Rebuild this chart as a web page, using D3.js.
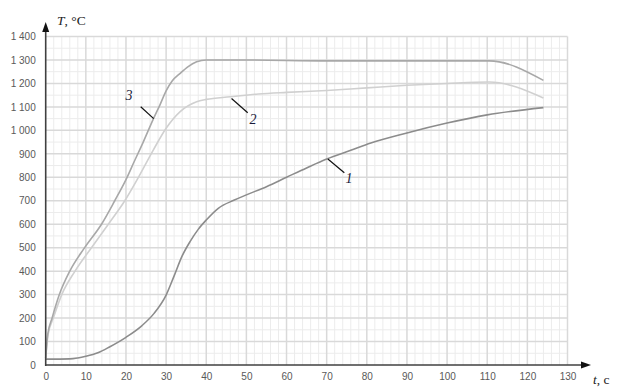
<!DOCTYPE html>
<html><head><meta charset="utf-8">
<script src="https://cdn.jsdelivr.net/npm/d3@7/dist/d3.min.js"></script>
<style>body{margin:0;background:#fff}svg{display:block}</style>
</head><body>
<svg id="c" width="621" height="389"></svg>
<script>
const xTicks = [0,10,20,30,40,50,60,70,80,90,100,110,120,130];
const yTicks = [0,100,200,300,400,500,600,700,800,900,1000,1100,1200,1300,1400];
const seriesNames = ["1","2","3"];
const t1 = [0,6,8,10,13,16,20,24,27,30,32,34,36,38,40,43,47,50,55,60,65,70,76,81,90,100,110,124];
const T1 = [25,26,30,37,52,78,118,168,220,298,380,465,527,578,618,668,703,725,760,800,840,878,915,946,989,1031,1066,1097];
const t2 = [0,0.6,1.9,4,7.3,11.4,15.6,19.7,23.1,26.8,30,33.5,37.6,40,46,53,60,70,80,90,100,110.5,124];
const T2 = [30,130,200,300,400,500,600,700,800,916,1009,1080,1122,1132,1143,1155,1162,1170,1181,1192,1200,1206,1138];
const t3 = [0,0.5,1.6,3.4,6,9.7,13.9,17.2,20,22,24.3,26.8,28.5,30,31.5,33.5,35.5,37.6,40,50,70,90,110.5,124];
const T3 = [30,130,200,300,400,500,600,700,790,865,950,1048,1110,1168,1210,1243,1272,1292,1300,1300,1296,1296,1296,1213];

const svg = d3.select("#c");
const x = d3.scaleLinear().domain([0,130]).range([45.7,567.5]);
const y = d3.scaleLinear().domain([0,1400]).range([365,36.5]);
const loc = d3.formatLocale({decimal:",",thousands:"\u00a0",grouping:[3],currency:["",""]});
const fmt = loc.format(",d");

// grid
const g = svg.append("g");
const minorX = d3.range(2,131,2).filter(v=>v%10!==0);
const minorY = d3.range(50,1401,100);
g.selectAll(".mx").data(minorX).join("line").attr("x1",d=>x(d)).attr("x2",d=>x(d)).attr("y1",y(0)).attr("y2",y(1400)).attr("stroke","#ececec").attr("stroke-width",1);
g.selectAll(".my").data(minorY).join("line").attr("x1",x(0)).attr("x2",x(130)).attr("y1",d=>y(d)).attr("y2",d=>y(d)).attr("stroke","#ececec").attr("stroke-width",1);
g.selectAll(".Mx").data(xTicks.filter(d=>d>0)).join("line").attr("x1",d=>x(d)).attr("x2",d=>x(d)).attr("y1",y(0)).attr("y2",y(1400)).attr("stroke","#d9d9d9").attr("stroke-width",1.5);
g.selectAll(".My").data(yTicks.filter(d=>d>0)).join("line").attr("x1",x(0)).attr("x2",x(130)).attr("y1",d=>y(d)).attr("y2",d=>y(d)).attr("stroke","#d9d9d9").attr("stroke-width",1.5);

// axes labels
const ya = svg.append("g").attr("transform",`translate(${x(0)},0)`).call(d3.axisLeft(y).tickValues(yTicks).tickFormat(fmt).tickSize(0).tickPadding(10));
ya.select(".domain").remove();
ya.selectAll("text").attr("font-family","Liberation Sans, Arial, sans-serif").attr("font-size","10px").attr("fill","#595959");
const xa = svg.append("g").attr("transform",`translate(0,${y(0)})`).call(d3.axisBottom(x).tickValues(xTicks).tickFormat(d3.format("d")).tickSize(0).tickPadding(8));
xa.select(".domain").remove();
xa.selectAll("text").attr("font-family","Liberation Sans, Arial, sans-serif").attr("font-size","10px").attr("fill","#595959");

// curves
const series = [
  {t:t1,T:T1,color:"#8c8c8c"},
  {t:t2,T:T2,color:"#d0d0d0"},
  {t:t3,T:T3,color:"#a8a8a8"}
];
const line = d3.line().x(d=>x(d[0])).y(d=>y(d[1])).curve(d3.curveMonotoneX);
series.forEach(s=>{
  svg.append("path").datum(s.t.map((v,i)=>[v,s.T[i]])).attr("d",line).attr("fill","none").attr("stroke",s.color).attr("stroke-width",1.6);
});

// axis lines with arrows
const ax = "#404040";
svg.append("line").attr("x1",x(0)).attr("x2",x(0)).attr("y1",y(0)+1).attr("y2",30).attr("stroke",ax).attr("stroke-width",1.6);
svg.append("path").attr("d",`M${x(0)},22 L${x(0)-3.5},32 L${x(0)+3.5},32 Z`).attr("fill","#111");
svg.append("line").attr("x1",x(0)).attr("x2",584).attr("y1",y(0)).attr("y2",y(0)).attr("stroke",ax).attr("stroke-width",1.6);
svg.append("path").attr("d",`M591,${y(0)} L581,${y(0)-3.5} L581,${y(0)+3.5} Z`).attr("fill","#111");

// axis titles
const t1el = svg.append("text").attr("x",57).attr("y",25).attr("font-family","Liberation Serif, serif").attr("font-size","13.5px").attr("fill","#222");
t1el.append("tspan").attr("font-style","italic").text("T");
t1el.append("tspan").text(", °C");
const t2el = svg.append("text").attr("x",593).attr("y",384).attr("font-family","Liberation Serif, serif").attr("font-size","13.5px").attr("fill","#222");
t2el.append("tspan").attr("font-style","italic").text("t");
t2el.append("tspan").text(", c");

// curve labels with leaders
const labels = [
  {name:seriesNames[0], t:70.3, T:T1[21], lx:344.3, ly:172.7, tx:349, ty:183},
  {name:seriesNames[1], t:46.3, T:1136, lx:247.7, ly:112.7, tx:253, ty:124},
  {name:seriesNames[2], t:26.9, T:1050, lx:140.7, ly:106.7, tx:129, ty:100}
];
labels.forEach(l=>{
  svg.append("line").attr("x1",x(l.t)).attr("y1",y(l.T)).attr("x2",l.lx).attr("y2",l.ly).attr("stroke","#111").attr("stroke-width",1.2);
  svg.append("text").attr("x",l.tx).attr("y",l.ty).attr("text-anchor","middle").attr("font-family","Liberation Serif, serif").attr("font-style","italic").attr("font-size","14px").attr("fill","#1a1a3a").text(l.name);
});
</script>
</body></html>
